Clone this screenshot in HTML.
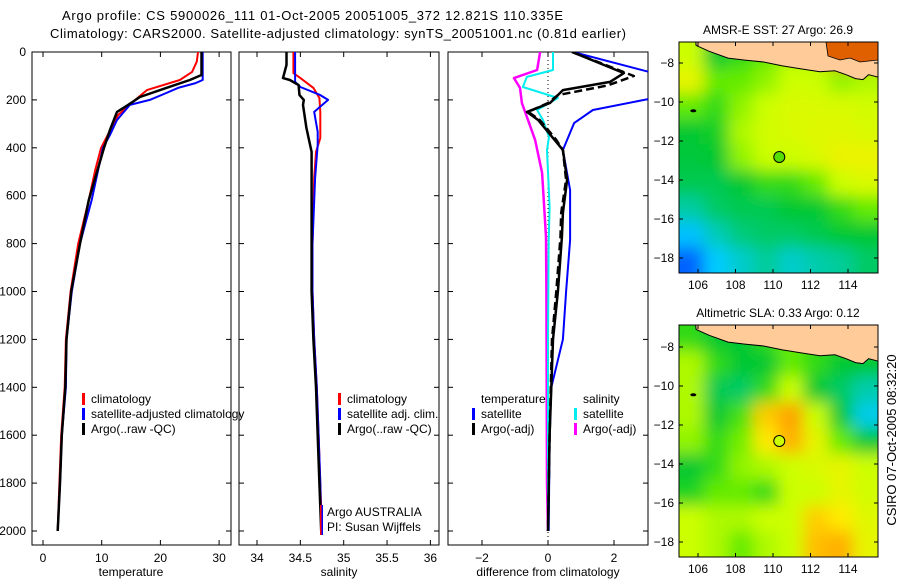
<!DOCTYPE html>
<html><head><meta charset="utf-8"><style>
html,body{margin:0;padding:0;background:#fff;}
svg{display:block;font-family:"Liberation Sans",sans-serif;}
</style></head><body>
<svg id="fig" width="900" height="580" viewBox="0 0 900 580">
<defs>
<clipPath id="c1"><rect x="32" y="52" width="199" height="493"/></clipPath>
<clipPath id="c2"><rect x="239" y="52" width="200" height="493"/></clipPath>
<clipPath id="c3"><rect x="448" y="52" width="200" height="493"/></clipPath>
<clipPath id="m1"><rect x="679" y="42" width="199" height="231"/></clipPath>
<clipPath id="m2"><rect x="679" y="325" width="199" height="232"/></clipPath>
<filter id="bl" x="-10%" y="-10%" width="120%" height="120%"><feGaussianBlur stdDeviation="8"/></filter>
</defs>
<rect width="900" height="580" fill="#fff"/>
<text x="62" y="20" font-size="13" textLength="501">Argo profile: CS 5900026_111 01-Oct-2005 20051005_372 12.821S 110.335E</text>
<text x="50" y="38" font-size="13" textLength="576">Climatology: CARS2000. Satellite-adjusted climatology: synTS_20051001.nc (0.81d earlier)</text>
<g id="root"></g>
</svg>
<script>
// ---------- data ----------
const depthTick=[0,200,400,600,800,1000,1200,1400,1600,1800,2000];
const tempTicks=[0,10,20,30];
const salTicks=[34,34.5,35,35.5,36];
const diffTicks=[-2,0,2];
const tClimD=[0,40,83,117,159,200,263,305,400,493,618,800,1000,1200,1400,1600,1800,2000];
const tClimV=[26.4,26.2,25.4,23.3,17.7,15.7,12.8,11.9,9.9,8.9,7.8,6.0,4.7,3.9,3.7,3.1,2.8,2.5];
const tSatD=[0,117,130,150,171,200,221,284,347,400,618,800,1000,1200,1400,1600,1800,2000];
const tSatV=[27.2,27.2,26,23,21,18.2,14.8,12.6,11.4,10.2,8.3,6.3,4.9,4.0,3.9,3.2,2.9,2.5];
const tArgoD=[0,96,117,150,188,221,250,326,400,618,800,1000,1200,1400,1600,1800,2000];
const tArgoV=[27.0,27.0,25,21,16.5,14.5,12.6,11.4,10.4,7.8,6.3,4.8,4.0,3.8,3.2,2.9,2.5];
const sClimD=[0,88,109,150,192,250,359,417,526,800,1000,1200,1400,1600,1800,2000];
const sClimV=[34.42,34.42,34.5,34.65,34.72,34.73,34.73,34.68,34.66,34.64,34.64,34.66,34.69,34.71,34.73,34.75];
const sSatD=[0,125,146,180,200,250,334,388,526,800,1000,1200,1400,1600,1800,2000];
const sSatV=[34.44,34.44,34.5,34.73,34.82,34.66,34.70,34.70,34.67,34.64,34.64,34.66,34.69,34.71,34.73,34.74];
const sArgoD=[0,54,109,117,138,180,200,221,317,417,526,800,1000,1200,1400,1600,1800,2000];
const sArgoV=[34.34,34.34,34.30,34.38,34.48,34.49,34.54,34.53,34.57,34.63,34.63,34.63,34.63,34.65,34.68,34.70,34.72,34.74];
const dTSatD=[0,88,120,192,242,297,409,576,785,1000,1200,1400,1600,2000];
const dTSatV=[0.76,3.2,3.6,3.2,1.36,0.79,0.45,0.67,0.67,0.55,0.45,0.1,0.05,0.02];
const dTArgoD=[0,88,125,159,213,250,284,367,409,534,672,772,1000,1200,1600,2000];
const dTArgoV=[0.73,2.3,1.88,0.45,0.06,-0.64,-0.3,0.2,0.45,0.58,0.45,0.42,0.3,0.15,0.05,0.0];
const dTAdjD=[0,100,140,180,213,250,284,367,409,534,672,772,1000,1200,1600,2000];
const dTAdjV=[0.73,2.6,1.8,0.3,0.0,-0.6,-0.25,0.25,0.45,0.55,0.4,0.38,0.25,0.12,0.05,0.0];
const dSSatD=[0,75,104,146,192,242,284,355,409,647,785,1200,1600,2000];
const dSSatV=[0.15,0.15,-0.64,-0.76,0.3,-0.33,-0.15,0.03,-0.03,0.05,0.02,0.0,0.0,0.0];
const dSArgoD=[0,75,109,150,213,271,367,505,772,1000,1400,1800,2000];
const dSArgoV=[-0.24,-0.33,-1.03,-0.85,-0.79,-0.64,-0.39,-0.18,-0.06,-0.05,-0.04,-0.03,0.0];
const mapLonTicks=[106,108,110,112,114];
const mapLatTicks=[-8,-10,-12,-14,-16,-18];
const sstGrid=[
[.62,.45,.5,.55,.6,.6,.85,.85],
[.66,.55,.55,.58,.62,.62,.58,.6],
[.55,.5,.58,.62,.64,.64,.64,.63],
[.45,.47,.6,.63,.64,.65,.65,.64],
[.44,.45,.58,.62,.62,.64,.67,.67],
[.42,.42,.45,.5,.5,.55,.62,.64],
[.34,.4,.42,.42,.45,.45,.5,.55],
[.24,.32,.38,.4,.4,.42,.45,.45],
[.15,.25,.3,.35,.3,.33,.35,.4]];
const slaGrid=[
[.5,.45,.45,.5,.55,.5,.5,.5],
[.6,.5,.45,.45,.55,.5,.45,.45],
[.6,.42,.4,.5,.62,.45,.4,.33],
[.6,.45,.52,.74,.8,.62,.45,.27],
[.58,.5,.56,.7,.78,.66,.55,.45],
[.45,.5,.58,.6,.62,.64,.66,.62],
[.48,.55,.55,.5,.62,.62,.66,.63],
[.62,.6,.6,.62,.62,.74,.7,.65],
[.62,.6,.55,.6,.62,.76,.78,.66]];
const argoLon=110.335, argoLat=-12.821;

// ---------- scales ----------
const NS='http://www.w3.org/2000/svg';
const root=document.getElementById('root');
const yD=d=>52+d*0.2395;
const xT=t=>43+t*5.87;
const xS=s=>257+(s-34)*86.7;
const xDf=v=>548+v*33;
const lonX=l=>698+(l-106)*18.75;
const lat1=l=>63+(-8-l)*19.5;
const lat2=l=>347+(-8-l)*19.5;
function mk(tag,at,parent){const e=document.createElementNS(NS,tag);for(const k in at)e.setAttribute(k,at[k]);(parent||root).appendChild(e);return e;}
function txt(x,y,s,anchor,parent){const e=mk('text',{x:x,y:y,'font-size':12,'text-anchor':anchor||'start'},parent);e.textContent=s;return e;}

function panel(x0,x1,name,xfun,xt,showY,label,labelX){
  const g=mk('g',{});
  
  
  const r=mk('rect',{x:x0,y:52,width:x1-x0,height:493,fill:'none',stroke:'#000','stroke-width':1},g);
  
  
  depthTick.forEach(d=>{
    mk('line',{x1:x0,x2:x0+5,y1:yD(d),y2:yD(d),stroke:'#000'},g);
    mk('line',{x1:x1-5,x2:x1,y1:yD(d),y2:yD(d),stroke:'#000'},g);
    if(showY){const t=txt(x0-6,yD(d)+4,String(d),'end',g);
      
      }
  });
  xt.forEach(v=>{
    mk('line',{x1:xfun(v),x2:xfun(v),y1:545,y2:540,stroke:'#000'},g);
    mk('line',{x1:xfun(v),x2:xfun(v),y1:52,y2:57,stroke:'#000'},g);
    const t=txt(xfun(v),562,String(v).replace('-','\u2212'),'middle',g);
    
    
  });
  const l=txt(labelX,576,label,'middle',g);
  
  
  return g;
}
function series(D,V,xf,color,w,clip,name,dash){
  const pts=D.map((d,i)=>xf(V[i]).toFixed(1)+','+yD(d).toFixed(1)).join(' ');
  const p=mk('polyline',{points:pts,fill:'none',stroke:color,'stroke-width':w,'clip-path':'url(#'+clip+')','stroke-linejoin':'round'});
  if(dash)p.setAttribute('stroke-dasharray',dash);
  
  
}
function legend(x,y,color,label,name){
  const b=mk('rect',{x:x,y:y-10,width:3,height:12,fill:color});
  
  
  const t=txt(x+9,y,label);
  
  
}

panel(32,231,'temperature-panel',xT,tempTicks,true,'temperature',131);
series(tClimD,tClimV,xT,'#ff0000',2,'c1','temp-climatology-line');
series(tSatD,tSatV,xT,'#0000ff',2,'c1','temp-satellite-line');
series(tArgoD,tArgoV,xT,'#000000',2.5,'c1','temp-argo-line');
legend(82,403,'#ff0000','climatology','legend-climatology');
legend(82,418,'#0000ff','satellite-adjusted climatology','legend-satellite-adjusted');
legend(82,433,'#000000','Argo(..raw -QC)','legend-argo');
panel(239,439,'salinity-panel',xS,salTicks,false,'salinity',339);
series(sClimD,sClimV,xS,'#ff0000',2,'c2','sal-climatology-line');
series(sSatD,sSatV,xS,'#0000ff',2,'c2','sal-satellite-line');
series(sArgoD,sArgoV,xS,'#000000',2.5,'c2','sal-argo-line');
legend(338,403,'#ff0000','climatology','legend-sal-climatology');
legend(338,418,'#0000ff','satellite adj. clim.','legend-sal-satellite');
legend(338,433,'#000000','Argo(..raw -QC)','legend-sal-argo');
let t=txt(327,516,'Argo AUSTRALIA');
t=txt(327,531,'PI: Susan Wijffels');
mk('rect',{x:320,y:505,width:1.5,height:30,fill:'#ff0000'});
mk('rect',{x:321.5,y:505,width:1.5,height:30,fill:'#0000ff'});
panel(448,648,'difference-panel',xDf,diffTicks,false,'difference from climatology',548);
mk('line',{x1:xDf(0),x2:xDf(0),y1:52,y2:545,stroke:'#000','stroke-dasharray':'1,3'});
series(dSArgoD,dSArgoV,xDf,'#ff00ff',2.5,'c3','sal-diff-argo-line');
series(dSSatD,dSSatV,xDf,'#00eeee',2,'c3','sal-diff-satellite-line');
series(dTSatD,dTSatV,xDf,'#0000ff',2,'c3','temp-diff-satellite-line');
series(dTAdjD,dTAdjV,xDf,'#000000',2.5,'c3','temp-diff-argo-adj-line','8,4');
series(dTArgoD,dTArgoV,xDf,'#000000',2.5,'c3','temp-diff-argo-line');
t=txt(481,403,'temperature');
t=txt(583,403,'salinity');
legend(472,418,'#0000ff','satellite','legend-diff-temp-satellite');
legend(472,433,'#000000','Argo(-adj)','legend-diff-temp-argo');
legend(574,418,'#00eeee','satellite','legend-diff-sal-satellite');
legend(574,433,'#ff00ff','Argo(-adj)','legend-diff-sal-argo');

function cmap(v){
  const st=[[0.15,[0,100,255]],[0.25,[0,204,255]],[0.35,[0,204,153]],[0.45,[0,200,50]],[0.55,[100,235,0]],[0.62,[204,255,0]],[0.7,[255,235,0]],[0.8,[255,160,0]],[0.9,[220,70,0]]];
  if(v<=st[0][0])return 'rgb('+st[0][1]+')';
  for(let i=1;i<st.length;i++){if(v<=st[i][0]){const a=st[i-1],b=st[i],f=(v-a[0])/(b[0]-a[0]);
    return 'rgb('+a[1].map((c,k)=>Math.round(c+(b[1][k]-c)*f)).join(',')+')';}}
  return 'rgb('+st[st.length-1][1]+')';
}
function drawMap(y0,h,grid,latF,clip,name,title,sst){
  const g=mk('g',{});
  
  
  const tt=txt(778,y0-8,title,'middle',g);
  
  
  const inner=mk('g',{'clip-path':'url(#'+clip+')'},g);
  mk('rect',{x:679,y:y0,width:199,height:h,fill:cmap(grid[4][4])},inner);
  const bg=mk('g',{filter:'url(#bl)'},inner);
  const rows=grid.length,cols=grid[0].length,cw=199/cols,ch=h/rows;
  grid.forEach((row,r)=>row.forEach((v,c)=>{
    const cell=mk('rect',{x:679+c*cw-(c==0?20:0),y:y0+r*ch-(r==0?20:0),width:cw+1+(c==0||c==cols-1?20:0),height:ch+1+(r==0||r==rows-1?20:0),fill:cmap(v)},bg);
    
    
  }));
  const landPts=[[105.85,-6.6],[105.9,-7.1],[106.6,-7.4],[107.6,-7.75],[108.5,-7.85],[109.5,-7.95],[110.5,-8.15],[111.5,-8.3],[112.5,-8.45],[113.3,-8.4],[113.9,-8.6],[114.4,-8.8],[114.8,-8.85],[115.1,-8.6],[115.7,-8.75],[115.7,-6.6]];
  const land=mk('polygon',{points:landPts.map(p=>lonX(p[0]).toFixed(1)+','+latF(p[1]).toFixed(1)).join(' '),fill:'#ffcc99',stroke:'#000','stroke-width':1},inner);
  
  
  if(sst){
    const o=mk('polygon',{points:'826,42 878,42 878,60 860,62 850,58 840,60 828,56',fill:'#e06000',stroke:'#000','stroke-width':0.8},inner);
    
    
  }
  mk('ellipse',{cx:lonX(105.75),cy:latF(-10.45),rx:3,ry:1.5,fill:'#000'},inner);
  mk('rect',{x:679,y:y0,width:199,height:h,fill:'none',stroke:'#000'},g);
  mapLonTicks.forEach(l=>{
    mk('line',{x1:lonX(l),x2:lonX(l),y1:y0+h,y2:y0+h-4,stroke:'#000'},g);
    mk('line',{x1:lonX(l),x2:lonX(l),y1:y0,y2:y0+4,stroke:'#000'},g);
    const tl=txt(lonX(l),y0+h+16,String(l),'middle',g);
    
    
  });
  mapLatTicks.forEach(l=>{
    mk('line',{x1:679,x2:683,y1:latF(l),y2:latF(l),stroke:'#000'},g);
    mk('line',{x1:874,x2:878,y1:latF(l),y2:latF(l),stroke:'#000'},g);
    const tl=txt(674,latF(l)+4,String(l).replace('-','\u2212'),'end',g);
    
    
  });
  const c=mk('circle',{cx:lonX(argoLon),cy:latF(argoLat),r:5.5,fill:sst?'#55dd00':'#ccff00',stroke:'#000'},g);
  
  
}
drawMap(42,231,sstGrid,lat1,'m1','sst-map','AMSR-E SST: 27 Argo: 26.9',true);
drawMap(325,232,slaGrid,lat2,'m2','sla-map','Altimetric SLA: 0.33 Argo: 0.12',false);
t=txt(0,0,'CSIRO 07-Oct-2005 08:32:20','middle');
t.setAttribute('transform','translate(896,440) rotate(-90)');
t.setAttribute('font-size','13');


</script>
</body></html>
